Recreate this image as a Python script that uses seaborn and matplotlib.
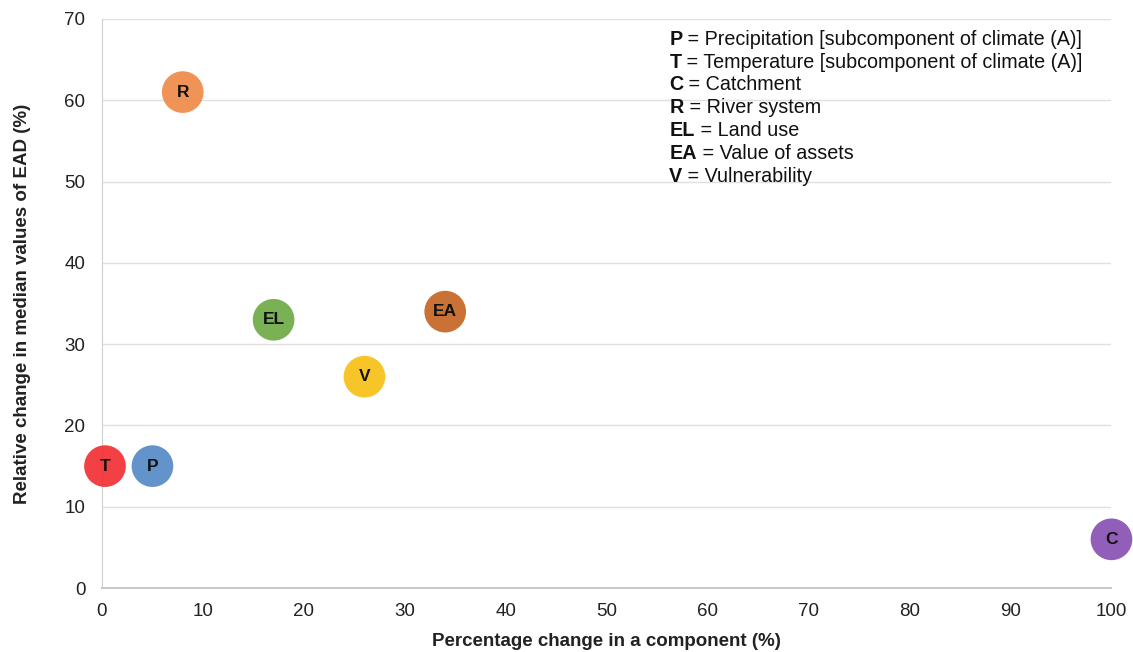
import matplotlib
matplotlib.use("Agg")
import matplotlib.pyplot as plt
import seaborn as sns
import pandas as pd

# 数据：各组成部分的变化
codes = ["T", "P", "R", "EL", "V", "EA", "C"]
pct_change = [0.3, 5, 8, 17, 26, 34, 100]
ead_change = [15, 15, 61, 33, 26, 34, 6]
colors = ["#F2353A", "#5A8DC9", "#F08D4E", "#72AD4B", "#F7C21B", "#C8692B", "#8B55B5"]

legend_codes = ["P", "T", "C", "R", "EL", "EA", "V"]
legend_names = ["Precipitation [subcomponent of climate (A)]",
                "Temperature [subcomponent of climate (A)]",
                "Catchment", "River system", "Land use",
                "Value of assets", "Vulnerability"]

x_ticks = list(range(0, 101, 10))
y_ticks = list(range(0, 71, 10))

sns.set_style("white")
plt.rcParams["font.family"] = ["Liberation Sans", "DejaVu Sans"]

df = pd.DataFrame({"code": codes, "x": pct_change, "y": ead_change})

fig = plt.figure(figsize=(11.33, 6.52), dpi=100)
ax = fig.add_axes([0.09, 0.098, 0.891, 0.873])

sns.scatterplot(data=df, x="x", y="y", hue="code", palette=colors,
                s=900, edgecolor="none", alpha=0.95, legend=False, ax=ax,
                clip_on=False, zorder=3)

# 圆内标签
for c, xv, yv in zip(codes, pct_change, ead_change):
    ax.text(xv, yv, c, ha="center", va="center", fontsize=12.5,
            fontweight="bold", color="#111111", zorder=4)

ax.set_xlim(0, 100)
ax.set_ylim(0, 70)
ax.set_xticks(x_ticks)
ax.set_yticks(y_ticks)
ax.tick_params(axis="both", labelsize=13.5, colors="#222222", length=0)
ax.tick_params(axis="y", pad=12)
ax.tick_params(axis="x", pad=11)
ax.yaxis.grid(True, color="#E0E0E0", linewidth=1)
ax.set_axisbelow(True)
for side in ["top", "right"]:
    ax.spines[side].set_visible(False)
ax.spines["left"].set_color("#D0D0D0")
ax.spines["bottom"].set_color("#C8C8C8")
ax.spines["bottom"].set_linewidth(1.5)

ax.set_xlabel("Percentage change in a component (%)", fontsize=13.5,
              fontweight="bold", color="#222222", labelpad=9)
ax.set_ylabel("Relative change in median values of EAD (%)", fontsize=13.5,
              fontweight="bold", color="#222222", labelpad=24)

# 图例说明文字
y0 = 0.981
for i, (c, n) in enumerate(zip(legend_codes, legend_names)):
    t = ax.text(0.562, y0 - i * 0.0402, c, transform=ax.transAxes, fontsize=14.2,
                fontweight="bold", color="#111111", va="top")
    ax.annotate(" = " + n, xy=(1, 0), xycoords=t, va="bottom", ha="left",
                fontsize=14.2, color="#111111")

fig.savefig("out.png", dpi=100)
